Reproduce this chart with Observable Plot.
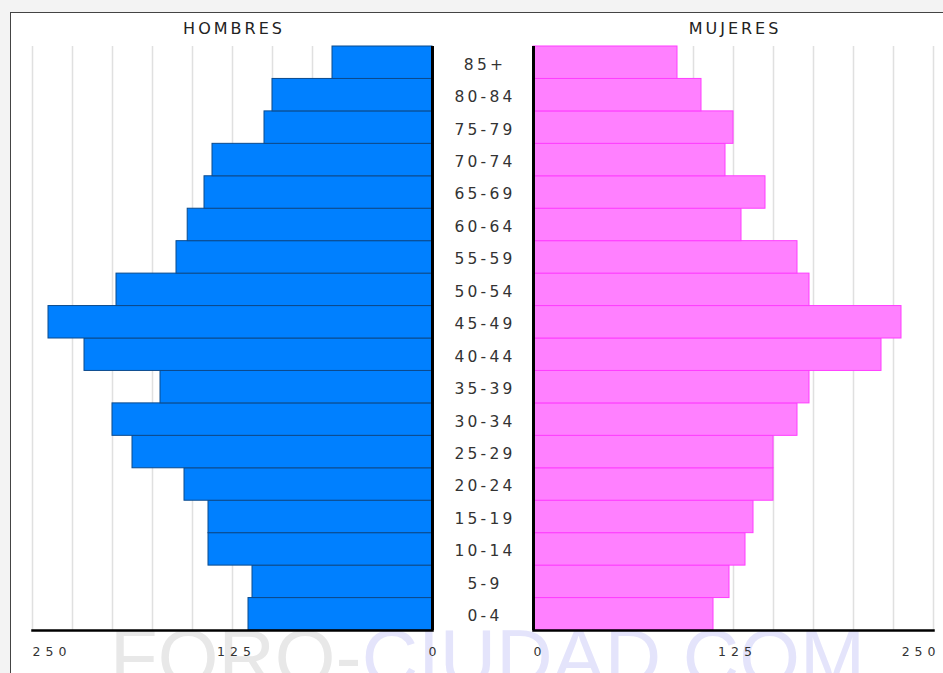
<!DOCTYPE html>
<html>
<head>
<meta charset="utf-8">
<script src="https://cdn.jsdelivr.net/npm/d3@7"></script>
<script src="https://cdn.jsdelivr.net/npm/@observablehq/plot@0.6"></script>
<style>
  html, body { margin: 0; padding: 0; background: #f3f3f3; }
  #wrap { position: relative; width: 943px; height: 673px; overflow: hidden; background: #f3f3f3; }
  #frame { position: absolute; left: 10px; top: 12px; width: 960px; height: 700px; background: #fff; border: 1px solid #444; box-sizing: border-box; }
  #wm { position: absolute; left: 0; top: 0; }
  .layer { position: absolute; left: 0; top: 0; }
  .layer svg { overflow: visible; }
  text[aria-label="age-labels"] { letter-spacing: 3.2px; }
  text[aria-label="tick-labels"] { letter-spacing: 5px; }
  text[aria-label="panel-title"] { letter-spacing: 3px; }
</style>
</head>
<body>
<div id="wrap">
  <div id="frame"></div>
  <svg id="wm" width="943" height="673">
    <text x="110" y="684" textLength="755" lengthAdjust="spacing" font-family="Liberation Sans, Arial, sans-serif" font-size="78"><tspan fill="#e8e8e8">FORO-</tspan><tspan fill="#e4e4fb">CIUDAD.COM</tspan></text>
  </svg>
  <div id="left" class="layer"></div>
  <div id="right" class="layer"></div>
</div>
<script>
const ages = ["0-4","5-9","10-14","15-19","20-24","25-29","30-34","35-39","40-44","45-49","50-54","55-59","60-64","65-69","70-74","75-79","80-84","85+"];
const hombres = [115, 112.5, 140, 140, 155, 187.5, 200, 170, 217.5, 240, 197.5, 160, 153, 142.5, 137.5, 105, 100, 62.5];
const mujeres = [112.5, 122.5, 132.5, 137.5, 150, 150, 165, 172.5, 217.5, 230, 172.5, 165, 130, 145, 120, 125, 105, 90];
const gridTicks = [25, 50, 75, 100, 125, 150, 175, 200, 225, 250];
const tickLabels = [0, 125, 250];
const titles = ["HOMBRES", "MUJERES"];

const dataH = ages.map((a, i) => ({age: a, value: hombres[i]}));
const dataM = ages.map((a, i) => ({age: a, value: mujeres[i]}));
const yDomain = ages.slice().reverse();
const font = "DejaVu Sans, Verdana, sans-serif";

function tickText(values, anchor, dx) {
  return Plot.text(values, {x: d => d, text: d => String(d), frameAnchor: "bottom", lineAnchor: "middle", dy: 21, textAnchor: anchor, dx, fontSize: 12.5, fill: "#333", ariaLabel: () => "tick-labels"});
}

function panel(data, opts) {
  return Plot.plot({
    width: 943, height: 673,
    marginLeft: opts.ml, marginRight: opts.mr, marginTop: 46, marginBottom: 43,
    x: {domain: [0, 250], reverse: opts.reverse, axis: null},
    y: {domain: yDomain, padding: 0, round: false, axis: null},
    style: {background: "transparent", fontFamily: font, overflow: "visible"},
    marks: [
      Plot.ruleX(gridTicks, {stroke: "#e0e0e0", strokeWidth: 1.5}),
      Plot.barX(data, {x: "value", y: "age", fill: opts.fill, stroke: opts.stroke, strokeWidth: 1}),
      Plot.ruleX([0], {stroke: "#000", strokeWidth: 3}),
      Plot.frame({anchor: "bottom", stroke: "#000", strokeWidth: 2.5}),
      Plot.text([titles[opts.ti]], {x: () => 125, text: d => d, frameAnchor: "top", lineAnchor: "middle", dy: -18, dx: 1.5, fontSize: 16, fill: "#222", ariaLabel: () => "panel-title"}),
      tickText(tickLabels.filter(d => d === 0), opts.reverse ? "end" : "start", opts.reverse ? 9 : 0),
      tickText(tickLabels.filter(d => d === 125), "middle", 4),
      tickText(tickLabels.filter(d => d === 250), opts.reverse ? "start" : "end", opts.reverse ? 0 : 7),
      ...(opts.labels ? [Plot.text(ages, {y: d => d, text: d => d, frameAnchor: "right", dx: 52.5, dy: 2, textAnchor: "middle", fontSize: 15.5, fill: "#333", ariaLabel: () => "age-labels"})] : [])
    ]
  });
}

document.getElementById("left").appendChild(panel(dataH, {ml: 32, mr: 511, reverse: true, fill: "#0080ff", stroke: "#0b4a8c", ti: 0, labels: true}));
document.getElementById("right").appendChild(panel(dataM, {ml: 533, mr: 10, reverse: false, fill: "#ff80ff", stroke: "#ff3dff", ti: 1, labels: false}));
</script>
</body>
</html>
